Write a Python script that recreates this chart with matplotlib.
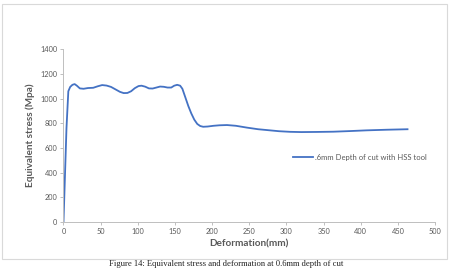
import matplotlib.pyplot as plt
from matplotlib.patches import Rectangle

# deformation (mm) vs equivalent stress (MPa)
deformation = [0, 2, 4, 6.5, 9, 12, 15, 18, 22, 27, 33, 40, 46, 52, 58, 64, 70,
               76, 81, 86, 91, 96, 101, 105, 110, 115, 120, 125, 130, 135, 140,
               145, 149, 153, 157, 160, 164, 168, 172, 176, 180, 184, 188, 194,
               202, 210, 220, 232, 247, 262, 276, 290, 305, 320, 340, 363, 385,
               408, 435, 463]
stress = [0, 380, 760, 1060, 1095, 1112, 1118, 1105, 1083, 1080, 1086, 1088,
          1100, 1110, 1106, 1095, 1075, 1055, 1045, 1046, 1060, 1085, 1102,
          1105, 1097, 1083, 1082, 1090, 1098, 1096, 1090, 1090, 1105, 1112,
          1105, 1080, 1010, 940, 880, 830, 795, 778, 772, 774, 780, 784, 786,
          780, 765, 752, 744, 736, 731, 729, 730, 732, 737, 743, 748, 752]
series_label = ".6mm Depth of cut with HSS tool"
x_ticks = [0, 50, 100, 150, 200, 250, 300, 350, 400, 450, 500]
y_ticks = [0, 200, 400, 600, 800, 1000, 1200, 1400]

plt.rcParams['font.family'] = ['Lato', 'DejaVu Sans']
grey = '#595959'

fig = plt.figure(figsize=(4.52, 2.69), dpi=100)
fig.patches.append(Rectangle((2.5 / 452, 1 - 259 / 269), 445 / 452, 255 / 269,
                             transform=fig.transFigure, fill=False,
                             edgecolor='#d9d9d9', linewidth=0.8))
ax = fig.add_axes([63.5 / 452, 1 - 222 / 269, 371.5 / 452, 172.7 / 269])

ax.plot(deformation, stress, color='#4472C4', linewidth=1.3, label=series_label)

ax.set_xlim(0, 500)
ax.set_ylim(0, 1400)
ax.set_xticks(x_ticks)
ax.set_yticks(y_ticks)
for s in ['top', 'right']:
    ax.spines[s].set_visible(False)
for s in ['left', 'bottom']:
    ax.spines[s].set_color('#bfbfbf')
    ax.spines[s].set_linewidth(0.7)
ax.tick_params(colors='#bfbfbf', labelcolor=grey, labelsize=5.3, length=2.5,
               width=0.7, pad=2)

ax.set_xlabel('Deformation(mm)', fontsize=7.2, fontweight='bold', color=grey,
              labelpad=3)
ax.set_ylabel('Equivalent stress (Mpa)', fontsize=7.2, fontweight='bold',
              color=grey, labelpad=4)

ax.legend(loc='center left', bbox_to_anchor=(0.6, 0.376), frameon=False,
          fontsize=5.5, handlelength=2.6, handletextpad=0.2,
          labelcolor=grey)

# caption just below the chart frame
fig.text(0.5, 1 - 268.5 / 269,
         'Figure 14: Equivalent stress and deformation at 0.6mm depth of cut',
         ha='center', va='bottom', fontsize=6.2, family='Liberation Serif',
         color='#222222')

fig.savefig('out.png', dpi=100)
